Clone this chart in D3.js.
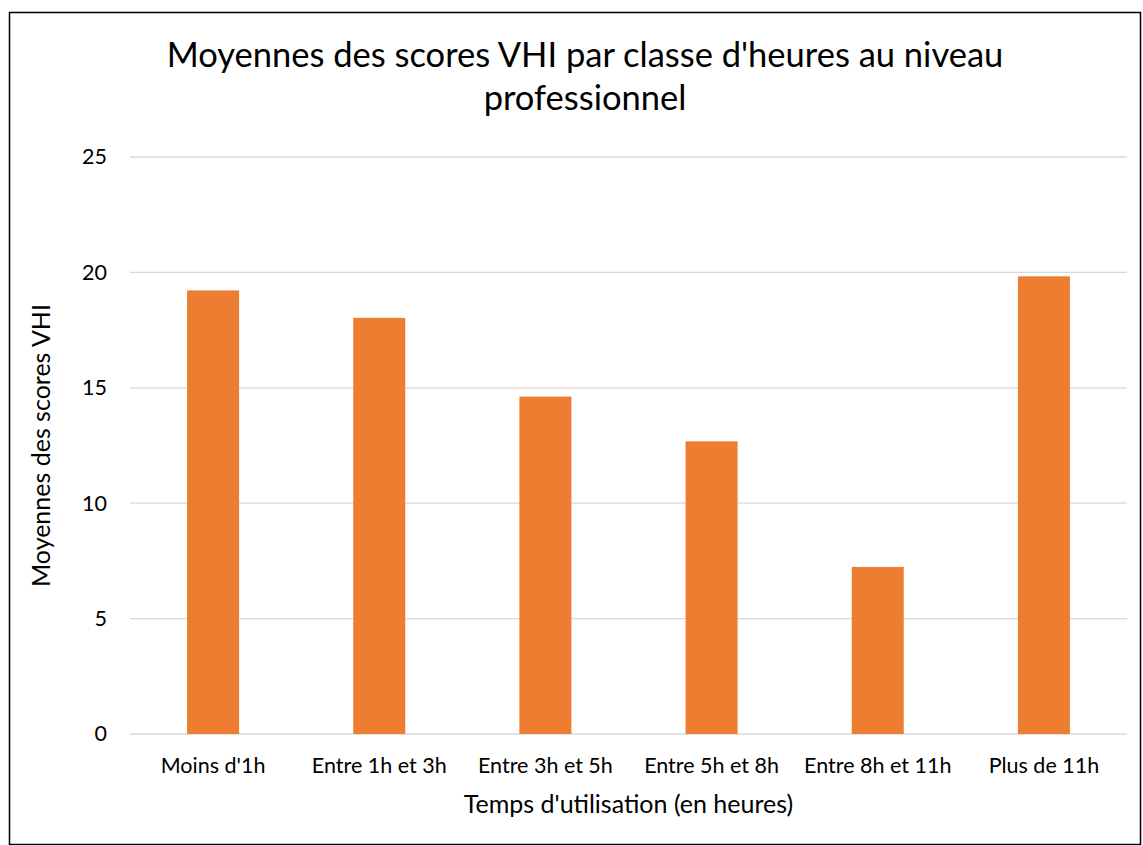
<!DOCTYPE html>
<html>
<head>
<meta charset="utf-8">
<script src="https://cdn.jsdelivr.net/npm/d3@7"></script>
<style>
  body { margin: 0; background: #fff; }
  text { font-family: Lato, "Open Sans", sans-serif; fill: #000; }
</style>
</head>
<body>
<script>
// data
var categories = ["Moins d'1h", "Entre 1h et 3h", "Entre 3h et 5h", "Entre 5h et 8h", "Entre 8h et 11h", "Plus de 11h"];
var values = [19.22, 18.03, 14.62, 12.68, 7.24, 19.83];
var yTicks = [0, 5, 10, 15, 20, 25];

var titleLines = ["Moyennes des scores VHI par classe d'heures au niveau", "professionnel"];
var xTitle = "Temps d'utilisation (en heures)";
var yTitle = "Moyennes des scores VHI";

var width = 1143, height = 845;
var margin = {top: 157, right: 16, bottom: 111, left: 130};
var w = width - margin.left - margin.right;
var h = height - margin.top - margin.bottom;

var svg = d3.select("body").append("svg")
  .attr("width", width)
  .attr("height", height);

// chart frame
svg.append("rect")
  .attr("x", 9.5).attr("y", 12.5)
  .attr("width", 1131).attr("height", 832)
  .attr("fill", "none")
  .attr("stroke", "#000")
  .attr("stroke-width", 1.5);

var g = svg.append("g")
  .attr("transform", "translate(" + margin.left + "," + margin.top + ")");

var x = d3.scaleBand().domain(categories).range([0, w]).padding(0);
var y = d3.scaleLinear().domain([0, 25]).range([h, 0]);

// gridlines
g.selectAll(".grid")
  .data(yTicks)
  .enter().append("line")
  .attr("x1", 0).attr("x2", w)
  .attr("y1", function(d) { return y(d); })
  .attr("y2", function(d) { return y(d); })
  .attr("stroke", "#d9d9d9")
  .attr("stroke-width", 1.3);

// y tick labels
var yAxis = d3.axisLeft(y).tickValues(yTicks).tickSize(0).tickPadding(23);
g.append("g").call(yAxis)
  .call(function(s) { s.select(".domain").remove(); })
  .selectAll("text")
  .style("font-family", "Lato, 'Open Sans', sans-serif")
  .attr("font-size", 21.5)
  .attr("fill", "#000");

// bars
var barW = x.bandwidth() * 0.313;
g.selectAll(".bar")
  .data(values)
  .enter().append("rect")
  .attr("class", "bar")
  .attr("x", function(d, i) { return x(categories[i]) + (x.bandwidth() - barW) / 2; })
  .attr("y", function(d) { return y(d); })
  .attr("width", barW)
  .attr("height", function(d) { return h - y(d); })
  .attr("fill", "#ed7d31");

// x tick labels
var xAxis = d3.axisBottom(x).tickSize(0).tickPadding(24);
g.append("g")
  .attr("transform", "translate(0," + h + ")")
  .call(xAxis)
  .call(function(s) { s.select(".domain").remove(); })
  .selectAll("text")
  .style("font-family", "Lato, 'Open Sans', sans-serif")
  .attr("font-size", 21.5)
  .attr("fill", "#000");

// title
svg.selectAll(".title")
  .data(titleLines)
  .enter().append("text")
  .attr("x", 585)
  .attr("y", function(d, i) { return 67 + i * 43; })
  .attr("text-anchor", "middle")
  .attr("font-size", 34.5)
  .text(function(d) { return d; });

// axis titles
svg.append("text")
  .attr("x", margin.left + w / 2)
  .attr("y", 813)
  .attr("text-anchor", "middle")
  .attr("font-size", 25)
  .text(xTitle);

svg.append("text")
  .attr("transform", "translate(50," + (margin.top + h / 2) + ") rotate(-90)")
  .attr("text-anchor", "middle")
  .attr("font-size", 25)
  .text(yTitle);
</script>
</body>
</html>
